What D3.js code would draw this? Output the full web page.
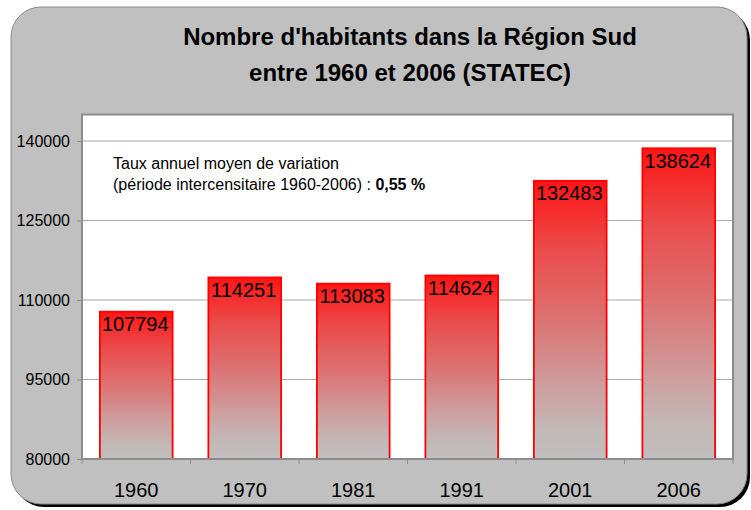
<!DOCTYPE html>
<html><head><meta charset="utf-8">
<script src="https://cdn.jsdelivr.net/npm/d3@7"></script>
<style>body{margin:0;background:#fff;}svg{display:block;font-family:"Liberation Sans",Arial,sans-serif;}</style>
</head><body>
<svg id="c" width="751" height="510"></svg>
<script>
const years = ["1960","1970","1981","1991","2001","2006"];
const habitants = [107794,114251,113083,114624,132483,138624];
const yTicks = [80000,95000,110000,125000,140000];
const titleLines = ["Nombre d'habitants dans la Région Sud","entre 1960 et 2006 (STATEC)"];

(function(){
const svg = d3.select("#c");
const defs = svg.append("defs");
const g = defs.append("linearGradient").attr("id","barGrad").attr("x1",0).attr("y1",0).attr("x2",0).attr("y2",1);
[[0,"#ff1515"],[0.25,"#ea4c4c"],[0.5,"#dc7272"],[0.75,"#cda0a0"],[0.9,"#c3b8b8"],[1,"#c0bebe"]].forEach(s=>g.append("stop").attr("offset",s[0]).attr("stop-color",s[1]));

// outer frame with shadow
svg.append("rect").attr("x",14).attr("y",10).attr("width",736).attr("height",497).attr("rx",30).attr("fill","#000");
svg.append("rect").attr("x",11).attr("y",7).attr("width",736).attr("height",497).attr("rx",30)
  .attr("fill","#c0c0c0").attr("stroke","#8a8a8a").attr("stroke-width",1);

// title
svg.append("g").selectAll("text").data(titleLines).join("text")
  .attr("x",410).attr("y",(d,i)=>45+i*36).attr("text-anchor","middle")
  .attr("font-size",24).attr("font-weight","bold").attr("fill","#000").text(d=>d);

const pL=82, pR=733, pT=114.5, pB=459;
const x = d3.scaleBand().domain(years).range([pL,pR]).paddingInner(0.33).paddingOuter(0.165);
const y = d3.scaleLinear().domain([80000,145000]).range([pB,pT]);

svg.append("rect").attr("x",pL).attr("y",pT).attr("width",pR-pL).attr("height",pB-pT).attr("fill","#fff");

// gridlines
svg.append("g").selectAll("line").data(yTicks.slice(1)).join("line")
  .attr("x1",pL).attr("x2",pR).attr("y1",d=>y(d)).attr("y2",d=>y(d))
  .attr("stroke","#a8a8a8").attr("stroke-width",1);

// bars
svg.append("g").selectAll("rect").data(habitants).join("rect")
  .attr("x",(d,i)=>x(years[i])).attr("width",x.bandwidth())
  .attr("y",d=>y(d)).attr("height",d=>pB-y(d))
  .attr("fill","url(#barGrad)").attr("stroke","#ff0000").attr("stroke-width",1.8);

// value labels
svg.append("g").selectAll("text").data(habitants).join("text")
  .attr("x",(d,i)=>x(years[i])+x.bandwidth()/2-1).attr("y",d=>y(d)+19.5)
  .attr("text-anchor","middle").attr("font-size",20).attr("fill","#000").text(d=>d);

// plot border
svg.append("rect").attr("x",pL).attr("y",pT).attr("width",pR-pL).attr("height",pB-pT)
  .attr("fill","none").attr("stroke","#8c8c8c").attr("stroke-width",2);

// y axis
const ya = svg.append("g").attr("transform",`translate(${pL},0)`)
  .call(d3.axisLeft(y).tickValues(yTicks).tickSize(5).tickPadding(7).tickFormat(d3.format("d")));
ya.select(".domain").remove();
ya.selectAll("line").attr("stroke","#8c8c8c");
ya.selectAll("text").attr("font-size",16).attr("fill","#000").attr("font-family","Liberation Sans, Arial, sans-serif");

// x axis ticks at band boundaries
const bounds = years.map(d=>x(d)-x.step()*x.paddingInner()/2).concat([pR]);
bounds[0]=pL;
svg.append("g").selectAll("line").data(bounds).join("line")
  .attr("x1",d=>d).attr("x2",d=>d).attr("y1",pB).attr("y2",pB+5).attr("stroke","#8c8c8c");
svg.append("g").selectAll("text").data(years).join("text")
  .attr("x",d=>x(d)+x.bandwidth()/2).attr("y",497).attr("text-anchor","middle")
  .attr("font-size",20).attr("fill","#000").text(d=>d);

// annotation
const ann = svg.append("text").attr("x",113).attr("y",169).attr("font-size",16).attr("fill","#000");
ann.append("tspan").attr("x",113).attr("y",169).text("Taux annuel moyen de variation");
ann.append("tspan").attr("x",113).attr("y",190).text("(période intercensitaire 1960-2006) : ");
ann.append("tspan").attr("font-weight","bold").text("0,55 %");
})();
</script>
</body></html>
